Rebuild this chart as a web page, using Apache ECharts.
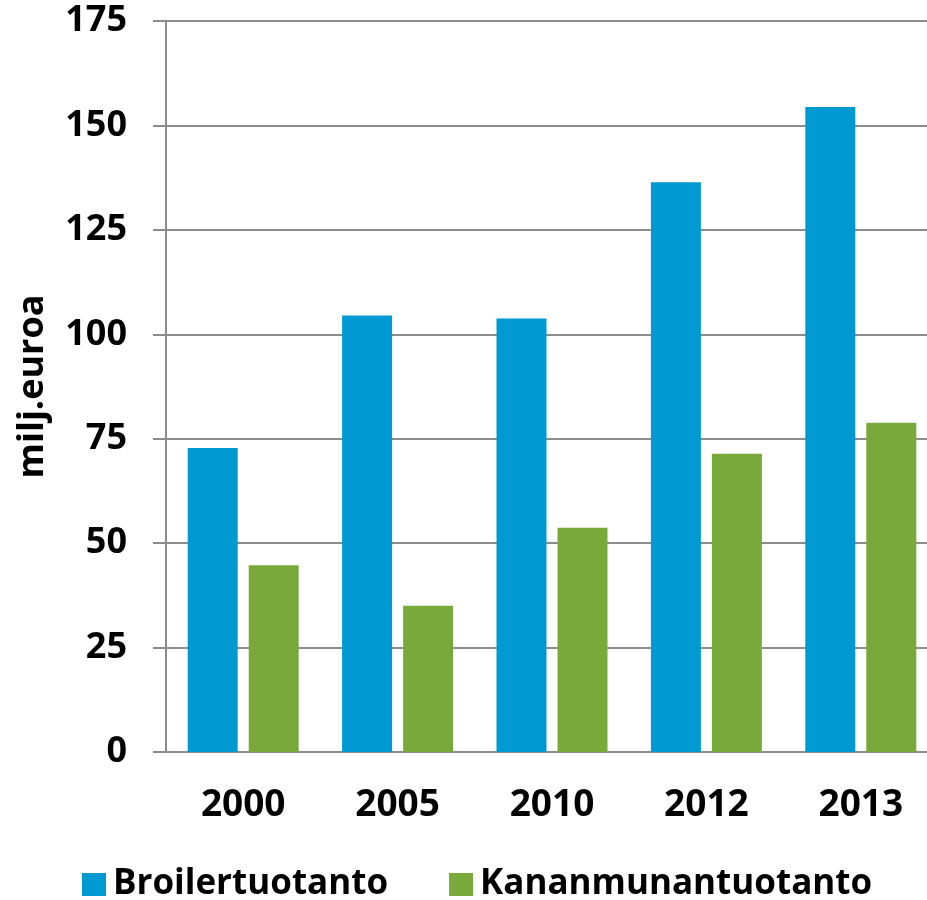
<!DOCTYPE html>
<html>
<head>
<meta charset="utf-8">
<script src="https://cdn.jsdelivr.net/npm/echarts@6/dist/echarts.min.js"></script>
<style>html,body{margin:0;padding:0;background:#fff}#c{width:927px;height:900px}</style>
</head>
<body>
<div id="c"></div>
<script>
const categories = ['2000', '2005', '2010', '2012', '2013'];
const broiler = [72.8, 104.5, 103.8, 136.4, 154.4];
const kananmuna = [44.7, 35.0, 53.7, 71.4, 78.8];
const seriesNames = ['Broilertuotanto', 'Kananmunantuotanto'];
const yAxisName = 'milj.euroa';

const FONT = 'Open Sans';
const chart = echarts.init(document.getElementById('c'), null, {renderer: 'canvas'});
chart.setOption({
  animation: false,
  backgroundColor: '#ffffff',
  grid: {left: 166, right: -11, top: 21, bottom: 148, containLabel: false, outerBoundsMode: 'none'},
  legend: {
    left: 77, top: 862,
    itemWidth: 24, itemHeight: 23, itemGap: 61,
    icon: 'rect',
    textStyle: {fontFamily: FONT, fontWeight: 'bold', fontSize: 35, color: '#000', padding: [0, 0, 0, 2]},
    data: seriesNames
  },
  xAxis: {
    type: 'category',
    data: categories,
    axisLine: {show: true, lineStyle: {color: '#8c8c8c', width: 2}},
    axisTick: {show: false},
    axisLabel: {fontFamily: FONT, fontWeight: 'bold', fontSize: 37, color: '#000', margin: 35}
  },
  yAxis: {
    type: 'value',
    min: 0, max: 175, interval: 25,
    name: yAxisName,
    nameLocation: 'middle',
    nameGap: 115,
    nameTextStyle: {fontFamily: FONT, fontWeight: 'bold', fontSize: 36, color: '#000'},
    axisLine: {show: true, lineStyle: {color: '#8c8c8c', width: 2}},
    axisTick: {show: true, inside: false, length: 13, lineStyle: {color: '#8c8c8c', width: 2}},
    splitLine: {show: true, lineStyle: {color: '#8c8c8c', width: 2}},
    axisLabel: {fontFamily: FONT, fontWeight: 'bold', fontSize: 36, color: '#000', margin: 39}
  },
  series: [
    {name: seriesNames[0], type: 'bar', data: broiler, barWidth: 50, barGap: '22%',
     itemStyle: {color: '#0099d2'}},
    {name: seriesNames[1], type: 'bar', data: kananmuna, barWidth: 50,
     itemStyle: {color: '#79a93a'}}
  ]
});
</script>
</body>
</html>
